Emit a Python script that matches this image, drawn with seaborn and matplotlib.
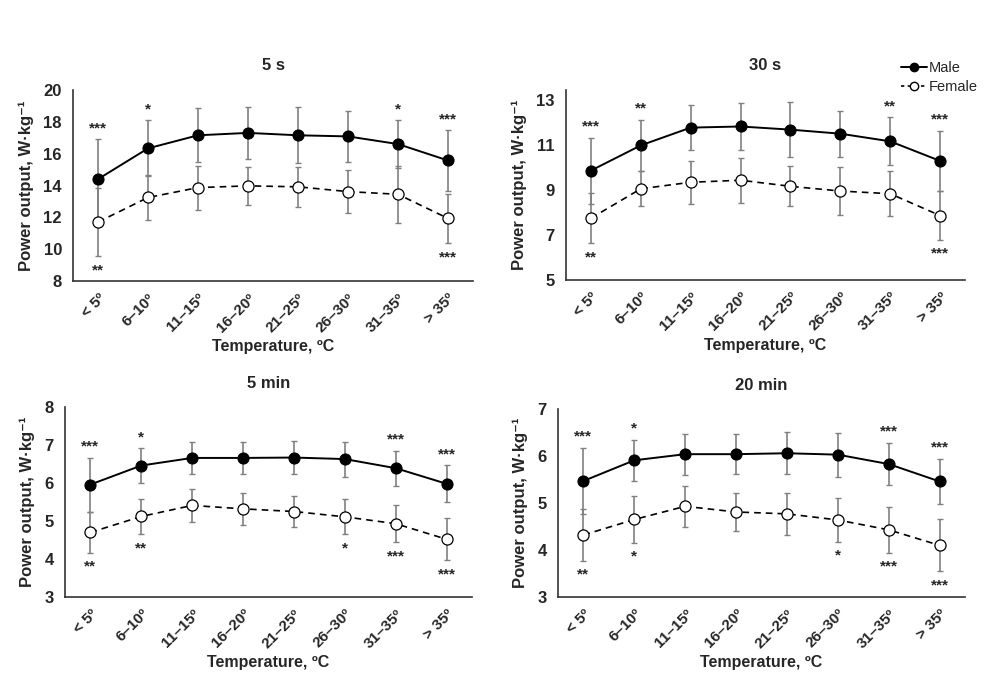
import pandas as pd
import seaborn as sns
import numpy as np
import matplotlib.pyplot as plt
from matplotlib.lines import Line2D

# Temperature categories
temps = ['< 5º', '6–10º', '11–15º', '16–20º', '21–25º', '26–30º', '31–35º', '> 35º']

# Mean power output and SD (W·kg-1)
male_5s = [14.4, 16.33, 17.15, 17.3, 17.15, 17.08, 16.6, 15.57]
male_5s_sd = [2.5, 1.75, 1.68, 1.65, 1.75, 1.6, 1.5, 1.9]
female_5s = [11.71, 13.25, 13.87, 13.98, 13.92, 13.62, 13.45, 11.94]
female_5s_sd = [2.15, 1.4, 1.38, 1.2, 1.26, 1.34, 1.78, 1.55]

male_30s = [9.86, 10.98, 11.77, 11.82, 11.68, 11.5, 11.16, 10.29]
male_30s_sd = [1.47, 1.14, 1.0, 1.06, 1.23, 1.02, 1.06, 1.33]
female_30s = [7.74, 9.05, 9.34, 9.43, 9.16, 8.95, 8.83, 7.86]
female_30s_sd = [1.11, 0.78, 0.95, 1.0, 0.89, 1.06, 0.99, 1.08]

male_5min = [5.96, 6.46, 6.66, 6.66, 6.67, 6.63, 6.39, 5.98]
male_5min_sd = [0.71, 0.45, 0.43, 0.43, 0.44, 0.46, 0.46, 0.49]
female_5min = [4.70, 5.12, 5.41, 5.32, 5.25, 5.11, 4.93, 4.52]
female_5min_sd = [0.54, 0.47, 0.44, 0.42, 0.42, 0.46, 0.49, 0.55]

male_20min = [5.47, 5.91, 6.04, 6.04, 6.06, 6.03, 5.83, 5.46]
male_20min_sd = [0.71, 0.44, 0.44, 0.43, 0.45, 0.47, 0.45, 0.48]
female_20min = [4.32, 4.65, 4.93, 4.81, 4.77, 4.64, 4.43, 4.10]
female_20min_sd = [0.55, 0.49, 0.43, 0.41, 0.44, 0.46, 0.49, 0.55]

# Significance marks
male_sig_5s = ['***', '*', '', '', '', '', '*', '***']
female_sig_5s = ['**', '', '', '', '', '', '', '***']
male_sig_30s = ['***', '**', '', '', '', '', '**', '***']
female_sig_30s = ['**', '', '', '', '', '', '', '***']
male_sig_5min = ['***', '*', '', '', '', '', '***', '***']
female_sig_5min = ['**', '**', '', '', '', '*', '***', '***']
male_sig_20min = ['***', '*', '', '', '', '', '***', '***']
female_sig_20min = ['**', '*', '', '', '', '*', '***', '***']

panels = [
    ('5 s', male_5s, male_5s_sd, female_5s, female_5s_sd, male_sig_5s, female_sig_5s,
     (8, 20), [8, 10, 12, 14, 16, 18, 20], [0.073, 0.593, 0.400, 0.277]),
    ('30 s', male_30s, male_30s_sd, female_30s, female_30s_sd, male_sig_30s, female_sig_30s,
     (5, 13.45), [5, 7, 9, 11, 13], [0.566, 0.595, 0.399, 0.275]),
    ('5 min', male_5min, male_5min_sd, female_5min, female_5min_sd, male_sig_5min, female_sig_5min,
     (3, 8), [3, 4, 5, 6, 7, 8], [0.065, 0.136, 0.407, 0.275]),
    ('20 min', male_20min, male_20min_sd, female_20min, female_20min_sd, male_sig_20min, female_sig_20min,
     (3, 7), [3, 4, 5, 6, 7], [0.558, 0.136, 0.407, 0.272]),
]

sns.set_style('white')
plt.rcParams['font.family'] = ['Liberation Sans', 'DejaVu Sans']
plt.rcParams['font.weight'] = 'bold'

fig = plt.figure(figsize=(10, 6.91), dpi=100)
x = np.arange(len(temps))
err_color = '#808080'

for title, m, msd, f, fsd, msig, fsig, ylim, yticks, pos in panels:
    ax = fig.add_axes(pos)
    df = pd.DataFrame({
        'x': np.concatenate([x, x]),
        'power': m + f,
        'sex': ['Male'] * len(x) + ['Female'] * len(x),
    })

    # SD error bars behind the markers
    ax.errorbar(x, m, yerr=msd, fmt='none', ecolor=err_color, elinewidth=1.2,
                capsize=2.5, capthick=1.0, zorder=1)
    ax.errorbar(x, f, yerr=fsd, fmt='none', ecolor=err_color, elinewidth=1.2,
                capsize=2.5, capthick=1.0, zorder=1)

    sns.lineplot(data=df[df['sex'] == 'Male'], x='x', y='power', ax=ax, color='black',
                 linewidth=1.4, marker='o', markersize=8, markerfacecolor='black',
                 markeredgecolor='black', zorder=3)
    sns.lineplot(data=df[df['sex'] == 'Female'], x='x', y='power', ax=ax, color='black',
                 linewidth=1.2, linestyle=(0, (4, 3)), marker='o', markersize=8,
                 markerfacecolor='white', markeredgecolor='black', markeredgewidth=0.9,
                 zorder=3)

    # significance stars
    for i in range(len(x)):
        if msig[i]:
            ax.annotate(msig[i], (x[i], m[i] + msd[i]), xytext=(0, 3),
                        textcoords='offset points', ha='center', va='bottom',
                        fontsize=11, fontweight='bold')
        if fsig[i]:
            ax.annotate(fsig[i], (x[i], f[i] - fsd[i]), xytext=(0, -5),
                        textcoords='offset points', ha='center', va='top',
                        fontsize=11, fontweight='bold')

    ax.set_xlim(-0.5, len(x) - 0.5)
    ax.set_ylim(*ylim)
    ax.set_yticks(yticks)
    ax.set_xticks(x)
    ax.set_xticklabels(temps, rotation=45, ha='right', rotation_mode='anchor',
                       fontsize=11, fontweight='bold')
    ax.tick_params(axis='y', labelsize=12, length=0, pad=8)
    ax.tick_params(axis='x', length=0, pad=7)
    for lbl in ax.get_yticklabels():
        lbl.set_fontweight('bold')
    ax.set_xlabel('Temperature, ºC', fontsize=11.5, fontweight='bold', labelpad=3)
    ax.set_ylabel('Power output, W·kg\u207b\u00b9', fontsize=12, fontweight='bold', labelpad=7)
    ax.set_title(title, fontsize=12, fontweight='bold', pad=14)
    sns.despine(ax=ax)
    ax.spines['left'].set_color('#333333')
    ax.spines['bottom'].set_color('#333333')
    ax.spines['left'].set_linewidth(1.2)
    ax.spines['bottom'].set_linewidth(1.2)
    ax.grid(False)
    if ax.get_legend() is not None:
        ax.get_legend().remove()

handles = [
    Line2D([0], [0], color='black', linewidth=1.4, marker='o', markersize=6,
           markerfacecolor='black', markeredgecolor='black'),
    Line2D([0], [0], color='black', linewidth=1.2, linestyle=(0, (2, 2)), marker='o',
           markersize=6, markerfacecolor='white', markeredgecolor='black'),
]
fig.legend(handles, ['Male', 'Female'], loc='upper left', bbox_to_anchor=(0.888, 0.93),
           frameon=False, handlelength=1.8, handletextpad=0.1,
           labelspacing=0.3, prop={'weight': 'normal', 'size': 10.5})

fig.savefig('out.png', dpi=100, facecolor='white')
